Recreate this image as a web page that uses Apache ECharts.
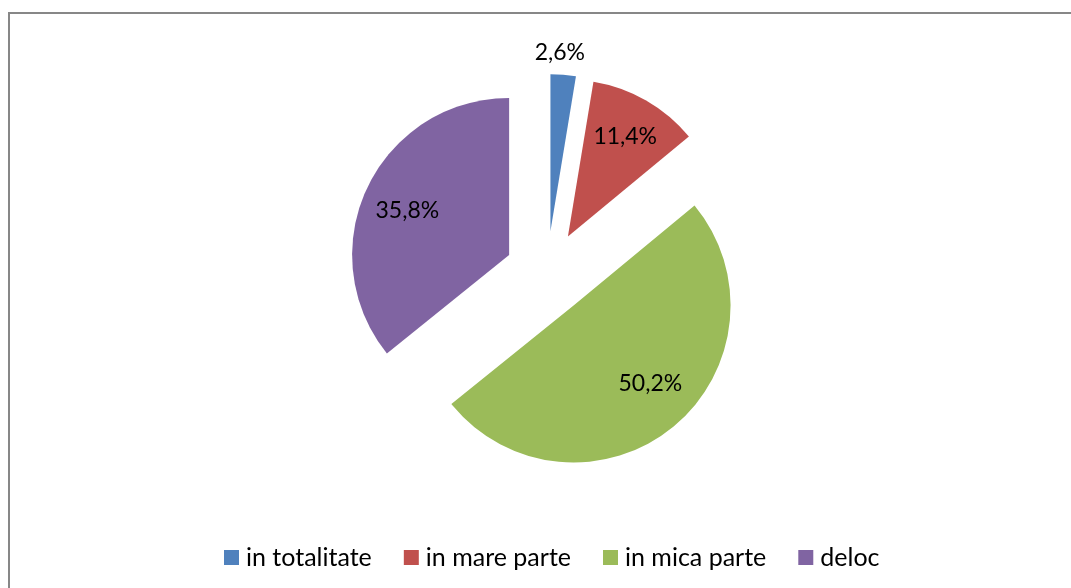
<!DOCTYPE html>
<html>
<head>
<meta charset="utf-8">
<script src="https://cdn.jsdelivr.net/npm/echarts@6/dist/echarts.min.js"></script>
<style>
  html, body { margin: 0; padding: 0; background: #fff; }
  #chart { width: 1071px; height: 588px; }
</style>
</head>
<body>
<div id="chart"></div>
<script>
// pie slices, clockwise from 12 o'clock
const categories = ['in totalitate', 'in mare parte', 'in mica parte', 'deloc'];
const values = [2.6, 11.4, 50.2, 35.8];
const colors = ['#4F81BD', '#C0504D', '#9BBB59', '#8064A2'];

const font = 'Lato, "Liberation Sans", sans-serif';
const pieCenter = [547, 273];
const explode = 42;

let fmt = function (p) {
    return p.value.toFixed(1).replace('.', ',') + '%';
};

let slices = categories.map(function (name, i) {
    return { name: name, value: values[i], selected: true, itemStyle: { color: colors[i] } };
});

// second, invisible pie only used to place labels further out than "inside" does
let labelSlices = categories.map(function (name, i) {
    return { name: name, value: values[i], selected: true };
});

// small label nudges so they sit where excel's "best fit" put them
let nudge = function (params) {
    switch (params.dataIndex) {
        case 0: return { dx: 0, dy: -64 };
        case 2: return { dx: 4, dy: -11 };
        case 3: return { dx: 2, dy: 5 };
        default: return {};
    }
};

let chart = echarts.init(document.getElementById('chart'));
chart.setOption({
    animation: false,
    color: colors,
    graphic: [{
        type: 'rect',
        shape: { x: 9, y: 13, width: 1100, height: 620 },
        style: { fill: null, stroke: '#878787', lineWidth: 2 },
        silent: true
    }],
    legend: {
        data: categories,
        left: 219,
        top: 540,
        icon: 'rect',
        itemWidth: 15,
        itemHeight: 15,
        itemGap: 32,
        textStyle: { fontFamily: font, fontSize: 25, color: '#000', padding: [0, 0, 0, 2] }
    },
    series: [
        {
            type: 'pie',
            center: pieCenter,
            radius: 157,
            startAngle: 90,
            clockwise: true,
            selectedMode: 'multiple',
            selectedOffset: explode,
            silent: true,
            label: { show: false },
            labelLine: { show: false },
            emphasis: { disabled: true },
            data: slices
        },
        {
            type: 'pie',
            center: pieCenter,
            radius: [0, 224],
            startAngle: 90,
            clockwise: true,
            selectedMode: 'multiple',
            selectedOffset: explode,
            silent: true,
            itemStyle: { color: 'rgba(0,0,0,0)' },
            label: {
                show: true,
                position: 'inside',
                formatter: fmt,
                fontFamily: font,
                fontSize: 23,
                color: '#000'
            },
            labelLayout: nudge,
            labelLine: { show: false },
            emphasis: { disabled: true },
            data: labelSlices
        }
    ]
});
</script>
</body>
</html>
